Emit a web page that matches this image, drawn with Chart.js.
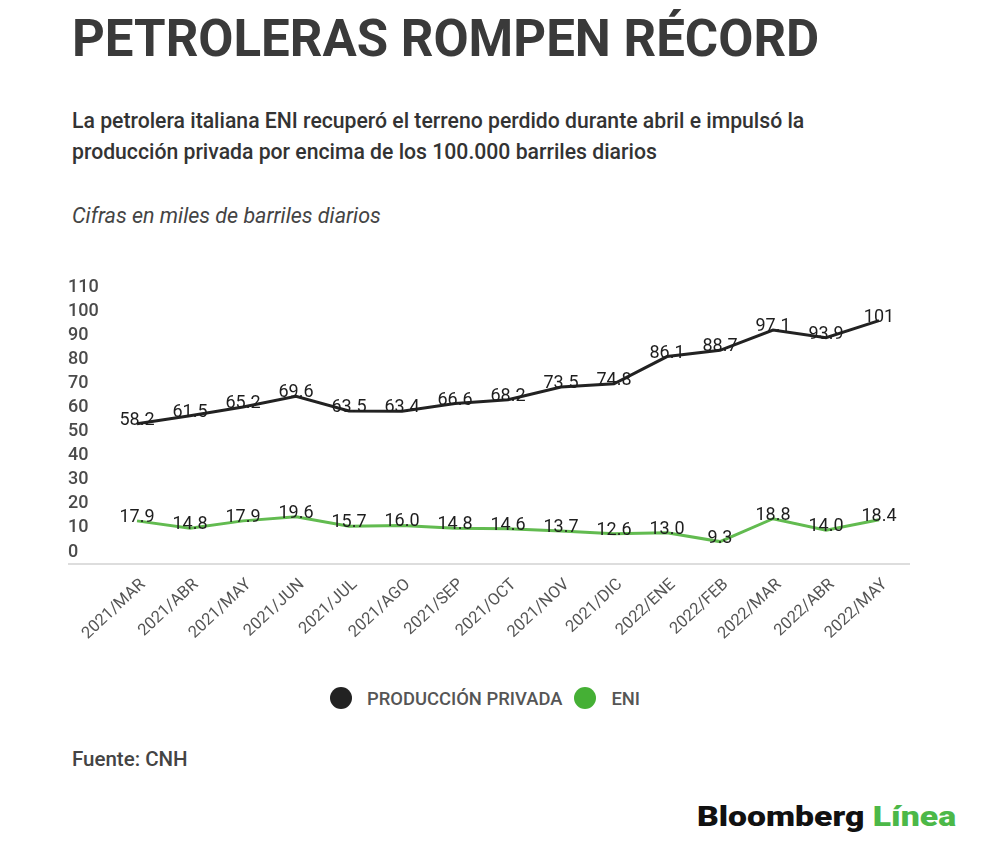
<!DOCTYPE html>
<html>
<head>
<meta charset="utf-8">
<script src="https://cdn.jsdelivr.net/npm/chart.js@4"></script>
<style>
  html, body { margin:0; padding:0; background:#fff; }
  body { width:1000px; height:864px; position:relative; overflow:hidden; font-family: Roboto, "Noto Sans", sans-serif; }
  .abs { position:absolute; white-space:nowrap; }
  #title { left:72px; top:13px; font-size:51px; line-height:1; font-weight:700; color:#3a3a3a; }
  #sub { left:72px; top:105px; font-size:21.2px; line-height:31px; font-weight:500; color:#333; }
  #unit { left:72px; top:205px; font-size:21.5px; line-height:1; font-style:italic; color:#444; }
  #src { left:72px; top:749px; font-size:20.5px; line-height:1; font-weight:500; color:#444; }
  #logo { left:697px; top:804px; font-size:27px; line-height:1; font-weight:900; color:#111; transform:scaleX(1.25); transform-origin:left top; }
  #logo span { color:#4cb848; }
  #legend { left:-15px; top:687px; width:1000px; display:flex; justify-content:center; align-items:center; font-size:18.4px; font-weight:500; color:#555; }
  .item { display:flex; align-items:center; margin:0 6px; }
  .dot { width:22px; height:22px; border-radius:50%; margin-right:15px; }
  #wrap { position:absolute; left:0; top:260px; width:1000px; height:404px; }
</style>
</head>
<body>
<div id="title" class="abs">PETROLERAS ROMPEN RÉCORD</div>
<div id="sub" class="abs">La petrolera italiana ENI recuperó el terreno perdido durante abril e impulsó la<br>producción privada por encima de los 100.000 barriles diarios</div>
<div id="unit" class="abs">Cifras en miles de barriles diarios</div>
<div id="wrap"><canvas id="c"></canvas></div>
<div id="legend" class="abs"></div>
<div id="src" class="abs">Fuente: CNH</div>
<div id="logo" class="abs">Bloomberg <span>Línea</span></div>
<script>
const categories = ["2021/MAR","2021/ABR","2021/MAY","2021/JUN","2021/JUL","2021/AGO","2021/SEP","2021/OCT","2021/NOV","2021/DIC","2022/ENE","2022/FEB","2022/MAR","2022/ABR","2022/MAY"];
const produccionPrivada = [58.2,61.5,65.2,69.6,63.5,63.4,66.6,68.2,73.5,74.8,86.1,88.7,97.1,93.9,101];
const eni = [17.9,14.8,17.9,19.6,15.7,16.0,14.8,14.6,13.7,12.6,13.0,9.3,18.8,14.0,18.4];
const seriesNames = ["PRODUCCIÓN PRIVADA","ENI"];
const lineColors = ["#222222","#62bb50"];
const legendColors = ["#222222","#45b035"];
const yMin = 0, yMax = 110, yStep = 10;

function fmt(v){ return v >= 100 ? String(Math.round(v)) : v.toFixed(1); }

const labelPlugin = {
  id:'valueLabels',
  afterDatasetsDraw(chart){
    const ctx = chart.ctx;
    ctx.save();
    ctx.font = '18px Roboto, "Noto Sans", sans-serif';
    ctx.fillStyle = '#1e1e1e';
    ctx.textAlign = 'center';
    ctx.textBaseline = 'alphabetic';
    chart.data.datasets.forEach((ds, di) => {
      const meta = chart.getDatasetMeta(di);
      meta.data.forEach((pt, i) => {
        ctx.fillText(fmt(ds.data[i]), pt.x, pt.y + 1);
      });
    });
    ctx.restore();
  }
};

const baselinePlugin = {
  id:'baseline',
  beforeDatasetsDraw(chart){
    const ctx = chart.ctx, ys = chart.scales.y, ca = chart.chartArea;
    const y0 = ys.getPixelForValue(0);
    ctx.save();
    ctx.strokeStyle = '#dddddd';
    ctx.lineWidth = 2;
    ctx.beginPath();
    ctx.moveTo(ys.left, y0);
    ctx.lineTo(ca.right + 31, y0);
    ctx.stroke();
    ctx.restore();
  }
};

new Chart(document.getElementById('c'), {
  type:'line',
  data:{
    labels: categories,
    datasets:[
      { label: seriesNames[0], data: produccionPrivada, borderColor: lineColors[0], backgroundColor: legendColors[0], borderWidth:3, pointRadius:0, tension:0 },
      { label: seriesNames[1], data: eni, borderColor: lineColors[1], backgroundColor: legendColors[1], borderWidth:3, pointRadius:0, tension:0 }
    ]
  },
  options:{
    responsive:true,
    maintainAspectRatio:false,
    animation:false,
    layout:{ padding:{ left:68, right:121, top:39, bottom:0 } },
    plugins:{ legend:{ display:false }, tooltip:{ enabled:false } },
    scales:{
      x:{
        offset:false,
        grid:{ display:false },
        border:{ display:false },
        ticks:{ font:{ family:'Roboto', size:16.5 }, color:'#555', maxRotation:43, minRotation:43, padding:3, labelOffset:6, autoSkip:false },
        afterFit(s){ s.height = 100; }
      },
      y:{
        min:yMin, max:yMax,
        grid:{ display:false },
        border:{ display:false },
        ticks:{ stepSize:yStep, autoSkip:false, font:{ family:'Roboto', size:18, weight:'500' }, color:'#4a4a4a', crossAlign:'far', labelOffset:-12 },
        afterFit(s){ s.width = 69; }
      }
    }
  },
  plugins:[baselinePlugin, labelPlugin]
});

const lg = document.getElementById('legend');
seriesNames.forEach((n, i) => {
  const it = document.createElement('div'); it.className = 'item';
  const d = document.createElement('div'); d.className = 'dot'; d.style.background = legendColors[i];
  const t = document.createElement('span'); t.textContent = n;
  it.appendChild(d); it.appendChild(t); lg.appendChild(it);
});
</script>
</body>
</html>
